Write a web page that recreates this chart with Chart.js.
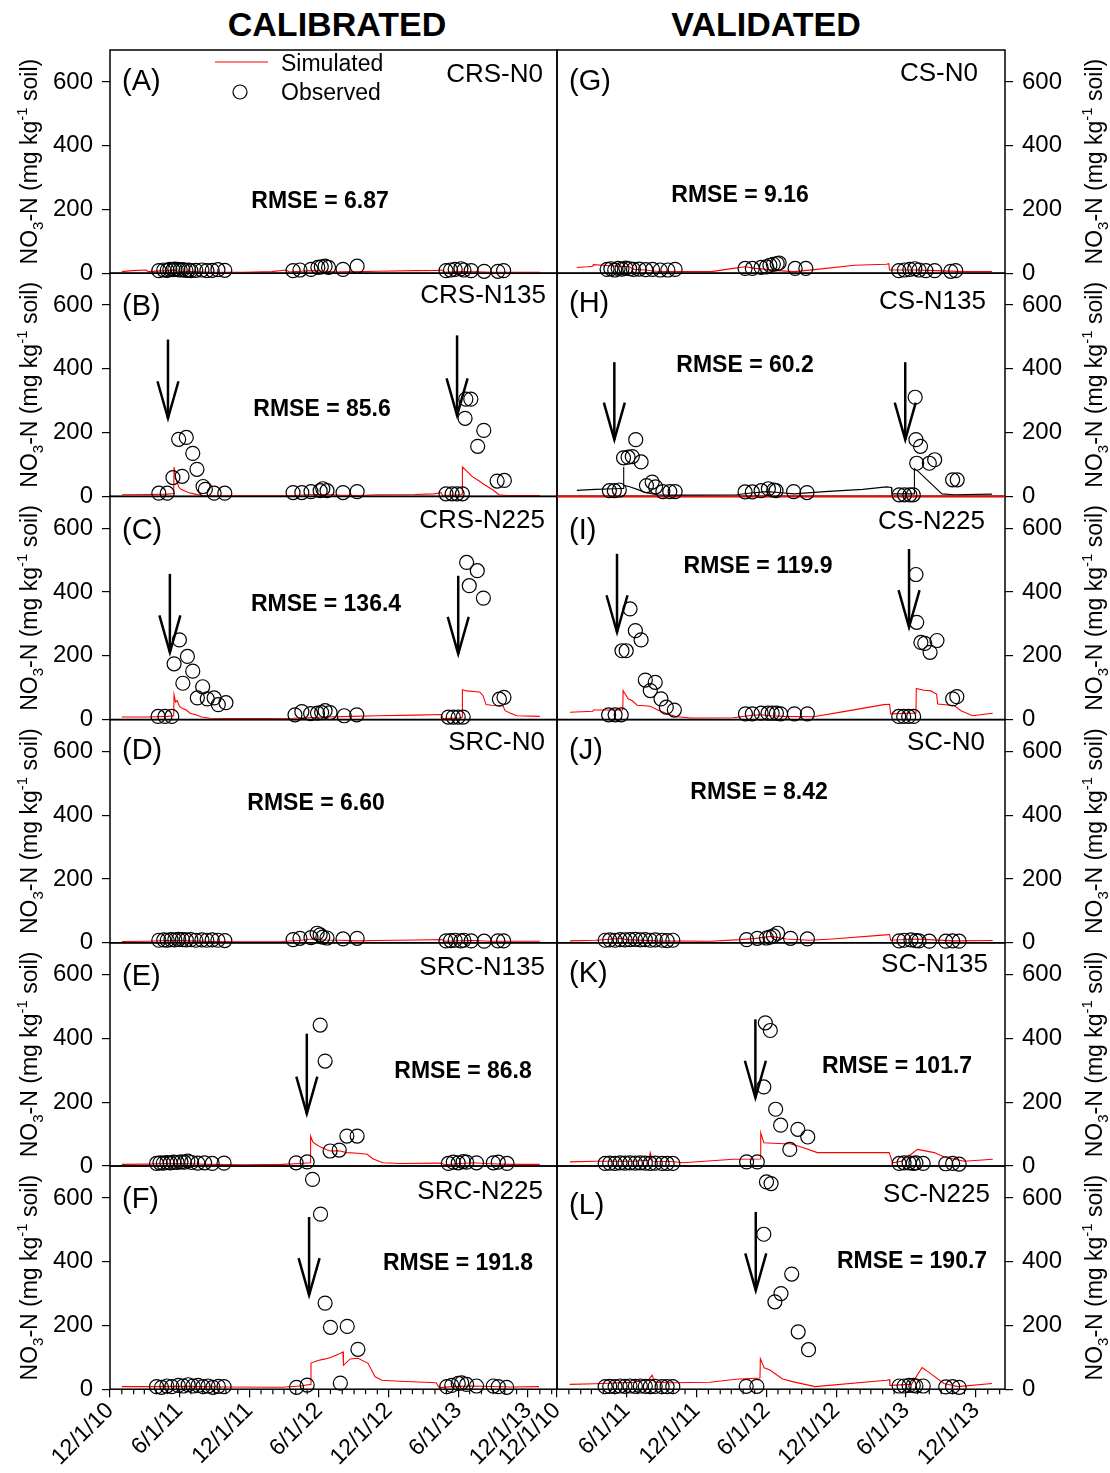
<!DOCTYPE html>
<html><head><meta charset="utf-8">
<script src="https://cdn.jsdelivr.net/npm/chart.js@4.4.1/dist/chart.umd.min.js"></script>
<style>
html,body{margin:0;padding:0;background:#fff;}
#wrap{position:relative;width:1110px;height:1473px;overflow:hidden;background:#fff;}
#wrap canvas{position:absolute;}
.hdr{position:absolute;top:7px;width:320px;text-align:center;font:bold 34px "Liberation Sans",Arial,sans-serif;line-height:34px;color:#000;}
</style></head><body>
<div id="wrap">
<div class="hdr" style="left:177px">CALIBRATED</div>
<div class="hdr" style="left:606px">VALIDATED</div>
</div>
<script>
// ---------- DATA (x = days since 12/1/10, y = NO3-N mg/kg) ----------
const xTickLabels = ['12/1/10','6/1/11','12/1/11','6/1/12','12/1/12','6/1/13','12/1/13'];
const yTickValues = [0,200,400,600];

const simA = [[31,5],[58,8],[95,10],[100,5],[150,8],[165,10],[175,6],[220,5],[260,3],[350,3],[424,5],[462,10],[470,4],[500,6],[530,8],[560,6],[600,4],[660,5],[700,6],[800,8],[860,9],[870,10],[876,3],[920,5],[960,4],[1000,3],[1127,3]];
const obsA = [[128,8],[141,10],[150,9],[157,12],[165,11],[170,13],[178,12],[184,10],[191,11],[199,9],[206,10],[212,8],[225,9],[241,10],[254,8],[268,9],[283,11],[301,9],[480,8],[498,10],[527,12],[545,18],[554,20],[564,22],[573,18],[611,12],[648,22],[881,8],[893,10],[905,12],[920,14],[928,10],[947,8],[981,6],[1017,6],[1032,8]];

const simB = [[31,5],[100,6],[150,7],[167,9],[168,92],[172,60],[176,45],[180,30],[186,22],[195,18],[205,12],[220,8],[240,3],[300,2],[450,2],[480,3],[520,5],[560,6],[600,4],[650,3],[700,5],[800,6],[850,8],[868,12],[872,3],[920,5],[923,8],[924,92],[935,80],[950,62],[966,50],[980,38],[1004,20],[1020,5],[1040,3],[1127,3]];
const obsB = [[128,10],[150,10],[165,59],[180,179],[189,63],[200,185],[217,135],[228,85],[244,31],[250,22],[273,10],[301,10],[480,12],[503,12],[527,15],[551,18],[558,24],[569,18],[611,12],[648,15],[881,8],[897,8],[910,8],[924,8],[931,245],[933,305],[946,305],[964,157],[980,207],[1015,48],[1034,50]];
const arrB = [[152,492,245],[910,505,254]];

const simC = [[31,8],[100,8],[150,10],[167,12],[168,78],[172,55],[176,60],[182,42],[190,35],[200,30],[210,20],[225,15],[240,8],[262,4],[350,3],[480,4],[520,6],[560,8],[640,10],[700,12],[800,14],[870,16],[873,3],[920,5],[923,8],[924,94],[935,90],[955,88],[970,86],[978,75],[986,47],[1000,45],[1030,44],[1036,28],[1050,20],[1067,12],[1127,10]];
const obsC = [[126,10],[144,10],[162,10],[168,175],[182,250],[191,114],[203,198],[217,152],[229,68],[243,103],[255,65],[273,68],[284,47],[304,53],[485,15],[503,25],[526,19],[544,20],[555,22],[564,28],[577,22],[614,12],[647,15],[887,8],[900,8],[913,8],[926,8],[935,493],[942,420],[963,467],[979,381],[1021,64],[1033,70]];
const arrC = [[157,457,211],[913,451,206]];

const simD = [[31,4],[100,5],[150,7],[200,6],[260,4],[350,3],[450,4],[500,8],[530,12],[560,9],[600,8],[650,6],[700,7],[800,9],[870,10],[876,5],[950,7],[1000,5],[1127,5]];
const obsD = [[128,8],[141,9],[150,8],[160,10],[170,9],[180,11],[190,10],[200,9],[212,10],[225,8],[241,9],[254,8],[268,9],[283,8],[301,7],[480,10],[498,14],[527,16],[543,30],[551,25],[558,18],[569,15],[611,12],[648,14],[881,6],[893,7],[905,8],[920,6],[928,8],[947,6],[981,5],[1017,6],[1032,6]];

const simE = [[31,5],[100,6],[150,8],[200,7],[260,5],[350,4],[450,5],[500,8],[525,10],[526,94],[532,75],[540,68],[551,60],[570,50],[577,47],[600,48],[621,42],[650,40],[674,37],[690,22],[716,10],[760,8],[870,9],[876,4],[920,8],[950,10],[1000,7],[1050,5],[1127,5]];
const obsE = [[122,8],[131,10],[140,9],[149,11],[158,10],[167,12],[176,11],[186,13],[195,12],[204,15],[214,11],[230,9],[248,10],[268,8],[299,9],[488,10],[517,13],[551,442],[564,329],[577,47],[601,50],[621,94],[648,94],[887,8],[900,12],[913,10],[926,14],[935,12],[961,10],[1005,10],[1018,12],[1041,8]];
const arrE = [[516,415,164]];

const simF = [[31,8],[100,8],[200,9],[300,7],[450,6],[500,10],[526,15],[527,82],[545,90],[565,95],[580,100],[600,110],[611,117],[612,75],[630,95],[650,97],[676,82],[695,39],[713,28],[760,25],[855,20],[863,5],[900,8],[950,10],[1050,7],[1125,8]];
const obsF = [[122,8],[135,6],[149,10],[162,8],[179,12],[192,10],[205,14],[218,10],[231,12],[244,8],[257,10],[270,6],[284,9],[299,8],[489,6],[517,13],[531,658],[552,549],[564,270],[578,194],[604,19],[622,197],[650,125],[883,8],[896,12],[913,18],[922,20],[935,15],[961,10],[1005,10],[1018,8],[1040,6]];
const arrF = [[522,540,295]];

const simG = [[52,18],[80,20],[94,22],[95,27],[120,25],[160,22],[190,20],[200,12],[230,10],[260,6],[309,5],[404,5],[461,15],[492,20],[520,15],[548,12],[580,8],[620,5],[680,12],[778,25],[862,28],[868,30],[870,10],[935,10],[990,8],[1067,5],[1138,5]];
const obsG = [[131,12],[141,14],[151,10],[160,15],[170,13],[180,16],[190,14],[200,12],[215,13],[232,11],[250,12],[270,10],[290,10],[309,12],[492,15],[511,15],[534,18],[548,20],[557,25],[566,28],[576,30],[581,32],[623,15],[651,15],[894,8],[909,10],[923,12],[936,14],[947,10],[965,8],[988,8],[1030,6],[1043,8]];

const simH = [[52,19],[100,22],[150,24],[173,25],[174,93],[175,35],[190,30],[210,22],[230,12],[262,5],[300,4],[470,5],[500,10],[550,15],[580,12],[620,8],[700,15],[800,22],[862,30],[875,28],[876,8],[934,8],[935,87],[947,76],[1007,8],[1040,5],[1138,7]];
const zeroH = [[0,0],[1172,0]];
const obsH = [[137,18],[150,18],[163,20],[174,121],[186,123],[197,125],[206,178],[220,108],[234,34],[249,45],[258,30],[277,15],[295,15],[309,15],[492,14],[511,14],[534,18],[553,24],[567,20],[573,18],[619,15],[654,12],[895,5],[909,5],[923,5],[932,5],[937,311],[939,178],[941,104],[951,157],[974,104],[988,115],[1035,52],[1047,52]];
const arrH = [[150,421,178],[911,421,178]];

const simI = [[34,23],[94,26],[95,30],[172,30],[173,91],[186,65],[196,60],[210,45],[244,42],[261,32],[288,18],[314,9],[350,5],[461,6],[500,12],[530,15],[560,12],[593,10],[671,9],[750,25],[855,47],[870,48],[873,18],[920,20],[939,20],[940,98],[960,92],[978,90],[993,80],[996,49],[1030,45],[1038,45],[1057,28],[1087,12],[1140,20]];
const obsI = [[135,15],[152,15],[168,15],[170,216],[181,216],[191,347],[205,279],[220,250],[231,124],[244,91],[257,117],[272,65],[286,39],[307,30],[493,18],[511,18],[534,20],[552,20],[563,20],[574,20],[585,18],[621,18],[655,18],[894,10],[907,10],[920,10],[933,10],[939,455],[941,305],[952,242],[962,239],[976,211],[994,248],[1035,65],[1046,72]];
const arrI = [[157,520,274],[921,535,290]];

const simJ = [[34,6],[100,8],[170,14],[180,10],[260,6],[400,5],[480,10],[520,14],[560,20],[600,12],[660,8],[720,12],[860,25],[870,26],[873,8],[940,12],[970,10],[1040,6],[1140,7]];
const obsJ = [[126,8],[138,9],[152,8],[165,10],[178,9],[191,10],[205,11],[218,9],[231,10],[244,8],[257,9],[275,8],[288,7],[303,8],[496,10],[524,14],[548,15],[557,18],[566,22],[577,30],[611,14],[655,12],[895,6],[908,8],[926,9],[939,7],[947,6],[974,5],[1017,5],[1035,6],[1052,5]];

const simK = [[34,13],[100,15],[200,15],[240,18],[244,42],[250,15],[300,14],[330,10],[461,21],[532,22],[533,104],[541,73],[593,70],[611,70],[645,57],[681,42],[869,42],[878,10],[900,15],[930,40],[943,52],[987,42],[1013,28],[1065,15],[1140,21]];
const obsK = [[126,8],[138,9],[152,8],[165,10],[178,9],[191,10],[205,9],[218,10],[231,9],[244,8],[257,9],[275,8],[288,8],[303,8],[496,13],[524,13],[541,248],[545,449],[558,425],[572,178],[585,128],[609,52],[630,115],[656,91],[895,8],[908,10],[921,10],[932,8],[939,10],[958,8],[1017,7],[1035,8],[1052,6]];
const arrK = [[519,460,214]];

const simL = [[33,15],[100,17],[200,22],[240,30],[249,44],[255,22],[300,20],[400,22],[469,31],[531,35],[532,96],[542,67],[557,60],[590,32],[619,23],[675,8],[862,28],[870,30],[871,12],[927,15],[955,68],[974,52],[1012,18],[1049,8],[1138,18]];
const obsL = [[126,8],[138,9],[152,8],[165,10],[178,9],[191,10],[205,9],[218,10],[231,9],[244,8],[257,9],[275,8],[288,8],[303,8],[495,9],[523,9],[541,486],[548,650],[560,645],[570,274],[586,300],[614,361],[631,180],[658,124],[895,10],[908,10],[921,12],[932,12],[939,10],[958,10],[1017,7],[1035,8],[1052,6]];
const arrL = [[520,556,310]];

const panelNames = ['CRS-N0','CRS-N135','CRS-N225','SRC-N0','SRC-N135','SRC-N225','CS-N0','CS-N135','CS-N225','SC-N0','SC-N135','SC-N225'];
const rmseLabels = ['RMSE = 6.87','RMSE = 85.6','RMSE = 136.4','RMSE = 6.60','RMSE = 86.8','RMSE = 191.8','RMSE = 9.16','RMSE = 60.2','RMSE = 119.9','RMSE = 8.42','RMSE = 101.7','RMSE = 190.7'];
const panelLetters = ['(A)','(B)','(C)','(D)','(E)','(F)','(G)','(H)','(I)','(J)','(K)','(L)'];

// ---------- LAYOUT / STYLE ----------
const FONT = '"Liberation Sans", Arial, Helvetica, sans-serif';
const TOP0 = 50, PH = 223.2, PAD = 30, PAGE_H = 1473;
const XMAX = 1172;
const COLS = [
  {left:0,   w:572, padL:0,  padR:15, axisW:110, pos:'left',  titleX:37},
  {left:477, w:633, padL:80, padR:0,  axisW:105, pos:'right', titleX:1102}
];
// page coords: [letterX, letterCY, nameRightX, nameCY, rmseCX, rmseCY]
const textPos = [
  [122,80,543,73,320,200],[122,305,546,294,322,408],[122,529,545,519,326,603],
  [122,749,545,741,316,802],[122,975,545,966,463,1070],[122,1198,543,1190,458,1262],
  [569,80,978,72,740,194],[569,302,986,300,745,364],[569,529,985,520,758,565],
  [569,749,985,741,759,791],[569,972,988,963,897,1065],[569,1204,990,1193,912,1260]
];

const DAY0 = Date.UTC(2010,11,1);
function dayOf(y,m,d){ return Math.round((Date.UTC(y,m-1,d)-DAY0)/86400000); }
const xTickDays = xTickLabels.map(s => { const [m,d,y] = s.split('/').map(Number); return dayOf(2000+y,m,d); });
const minorDays = [];
for (let k=0;k<40;k++){ const dd = dayOf(2010+Math.floor((11+k)/12), ((11+k)%12)+1, 1); if (dd<=XMAX) minorDays.push(dd); }

const panels = [
  {sim:simA,obs:obsA,arr:[]},{sim:simB,obs:obsB,arr:arrB},{sim:simC,obs:obsC,arr:arrC},
  {sim:simD,obs:obsD,arr:[]},{sim:simE,obs:obsE,arr:arrE},{sim:simF,obs:obsF,arr:arrF},
  {sim:simG,obs:obsG,arr:[]},{sim:simH,obs:obsH,arr:arrH,simColor:'#000',zero:zeroH},{sim:simI,obs:obsI,arr:arrI},
  {sim:simJ,obs:obsJ,arr:[]},{sim:simK,obs:obsK,arr:arrK},{sim:simL,obs:obsL,arr:arrL}
];

const wrap = document.getElementById('wrap');
const pts = a => a.map(([x,y]) => ({x,y}));

function drawYTitle(ctx, x, cy){
  const big = 'normal 23px '+FONT, small = 'normal 15px '+FONT;
  const segs = [['NO',big,0],['3',small,6],['-N (mg kg',big,0],['-1',small,-10],[' soil)',big,0]];
  let total = 0;
  segs.forEach(s => { ctx.font = s[1]; total += ctx.measureText(s[0]).width; });
  ctx.save();
  ctx.translate(x, cy);
  ctx.rotate(-Math.PI/2);
  ctx.fillStyle = '#000'; ctx.textBaseline = 'alphabetic'; ctx.textAlign = 'left';
  let px = -total/2;
  segs.forEach(s => { ctx.font = s[1]; ctx.fillText(s[0], px, s[2]); px += ctx.measureText(s[0]).width; });
  ctx.restore();
}

panels.forEach((p, i) => {
  const colIdx = i < 6 ? 0 : 1, row = i % 6;
  const col = COLS[colIdx];
  const panelTop = TOP0 + row*PH, panelBottom = panelTop + PH;
  const bottomRow = row === 5;
  const cTop = Math.floor(panelTop - PAD);
  const cBot = bottomRow ? PAGE_H : Math.ceil(panelBottom + PAD);
  const H = cBot - cTop;
  const cv = document.createElement('canvas');
  cv.width = col.w; cv.height = H;
  cv.style.left = col.left + 'px'; cv.style.top = cTop + 'px';
  cv.style.width = col.w + 'px'; cv.style.height = H + 'px';
  if (p.zero) cv.style.zIndex = 3;
  wrap.appendChild(cv);
  const tp = textPos[i];

  const datasets = [
    {type:'scatter', data: pts(p.obs), showLine:false, pointStyle:'circle', pointRadius:7, pointHoverRadius:7,
     pointBorderColor:'#000', pointBackgroundColor:'rgba(0,0,0,0)', pointBorderWidth:1.2, clip:false},
    {type:'line', data: pts(p.sim), borderColor: p.simColor || '#ff0000', borderWidth:1.1,
     pointRadius:0, fill:false, tension:0}
  ];
  if (p.zero) datasets.push({type:'line', data: pts(p.zero), borderColor:'#ff0000', borderWidth:1.6, pointRadius:0, fill:false, clip:false});

  const decor = {
    id:'decor'+i,
    beforeDatasetsDraw(chart){
      const a = chart.chartArea, ctx = chart.ctx;
      ctx.save(); ctx.strokeStyle = '#000'; ctx.lineWidth = 1.5;
      ctx.strokeRect(a.left, a.top, a.right-a.left, a.bottom-a.top);
      ctx.restore();
    },
    afterDatasetsDraw(chart){
      const ctx = chart.ctx, xs = chart.scales.x, ys = chart.scales.y;
      ctx.save(); ctx.strokeStyle = '#000'; ctx.lineWidth = 2.5; ctx.lineCap = 'butt';
      p.arr.forEach(([d, top, tip]) => {
        const x = xs.getPixelForValue(d), y1 = ys.getPixelForValue(top), y2 = ys.getPixelForValue(tip);
        ctx.beginPath(); ctx.moveTo(x, y1); ctx.lineTo(x, y2); ctx.stroke();
        ctx.beginPath(); ctx.moveTo(x-10.5, y2-37); ctx.lineTo(x, y2); ctx.lineTo(x+10.5, y2-37); ctx.stroke();
      });
      ctx.restore();
    },
    afterDraw(chart){
      const ctx = chart.ctx, a = chart.chartArea, xs = chart.scales.x;
      const ox = col.left, oy = cTop;
      ctx.save();
      ctx.fillStyle = '#000';
      if (bottomRow){
        ctx.strokeStyle = '#000'; ctx.lineWidth = 1.2;
        minorDays.forEach(d => { if (xTickDays.includes(d)) return; const x = xs.getPixelForValue(d);
          ctx.beginPath(); ctx.moveTo(x, a.bottom); ctx.lineTo(x, a.bottom+5); ctx.stroke(); });
      }
      ctx.textBaseline = 'alphabetic';
      ctx.font = 'normal 29px '+FONT; ctx.textAlign = 'left';
      ctx.fillText(panelLetters[i], tp[0]-ox, tp[1]-oy+0.36*29);
      ctx.font = 'normal 26px '+FONT; ctx.textAlign = 'right';
      ctx.fillText(panelNames[i], tp[2]-ox, tp[3]-oy+0.36*26);
      ctx.font = 'bold 23px '+FONT; ctx.textAlign = 'center';
      ctx.fillText(rmseLabels[i], tp[4]-ox, tp[5]-oy+0.36*23);
      drawYTitle(ctx, col.titleX-ox, (panelTop+panelBottom)/2-oy);
      if (i === 0){
        ctx.strokeStyle = '#ff0000'; ctx.lineWidth = 1.2;
        ctx.beginPath(); ctx.moveTo(215-ox, 62-oy); ctx.lineTo(268-ox, 62-oy); ctx.stroke();
        ctx.strokeStyle = '#000';
        ctx.beginPath(); ctx.arc(240-ox, 92-oy, 7, 0, Math.PI*2); ctx.stroke();
        ctx.font = 'normal 23px '+FONT; ctx.textAlign = 'left';
        ctx.fillText('Simulated', 281-ox, 63-oy+0.36*23);
        ctx.fillText('Observed', 281-ox, 92-oy+0.36*23);
      }
      ctx.restore();
    }
  };

  new Chart(cv, {
    type:'scatter',
    data:{datasets},
    options:{
      responsive:false, animation:false, devicePixelRatio:1, events:[],
      layout:{padding:{left:col.padL, right:col.padR, top: panelTop - cTop, bottom: bottomRow ? 0 : cBot - panelBottom}},
      plugins:{legend:{display:false}, tooltip:{enabled:false}, title:{display:false}},
      scales:{
        x:{type:'linear', min:0, max:XMAX, display:bottomRow, position:'bottom',
           afterBuildTicks: s => { s.ticks = xTickDays.map(v => ({value:v})); },
           afterFit: s => { s.height = bottomRow ? PAGE_H - panelBottom : 0; },
           ticks:{autoSkip:false, maxRotation:45, minRotation:45, padding:0, color:'#000',
                  font:{family:FONT, size:23},
                  callback: v => { const k = xTickDays.indexOf(v); return k >= 0 ? xTickLabels[k] : ''; }},
           grid:{display:true, drawOnChartArea:false, drawTicks:true, tickLength:8, color:'#000', lineWidth:1.2},
           border:{display:false}},
        y:{type:'linear', min:0, max:700, position:col.pos,
           afterBuildTicks: s => { s.ticks = yTickValues.map(v => ({value:v})); },
           afterFit: s => { s.width = col.axisW; },
           ticks:{padding:9, color:'#000', font:{family:FONT, size:24}},
           grid:{display:true, drawOnChartArea:false, drawTicks:true, tickLength:8, color:'#000', lineWidth:1.2},
           border:{display:false}}
      }
    },
    plugins:[decor]
  });
});
</script>
</body></html>
